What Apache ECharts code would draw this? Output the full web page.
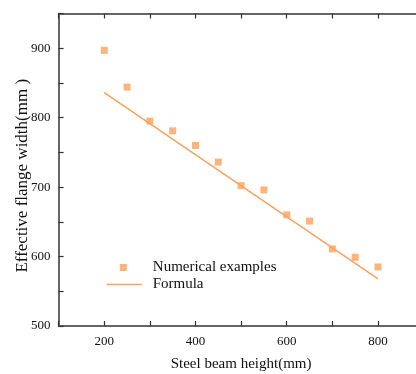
<!DOCTYPE html>
<html>
<head>
<meta charset="utf-8">
<script src="https://cdn.jsdelivr.net/npm/echarts@6/dist/echarts.min.js"></script>
<style>
  html, body { margin: 0; padding: 0; background: #fff; }
  #chart { width: 416px; height: 374px; }
</style>
</head>
<body>
<div id="chart"></div>
<script>
// Steel beam heights (mm)
const heights = [200, 250, 300, 350, 400, 450, 500, 550, 600, 650, 700, 750, 800];
// Effective flange width from numerical examples (mm)
const numerical = [897, 844, 795, 781, 760, 736, 702, 696, 660, 651, 611, 599, 585];
// Formula line end points
const formulaX = [200, 800];
const formulaY = [836, 568];

const xTicks = [200, 400, 600, 800];
const yTicks = [500, 600, 700, 800, 900];

const serif = 'Liberation Serif, Times New Roman, serif';
const axisColor = '#333';
const orange = '#FFA05A';
const textColor = '#111';

const chart = echarts.init(document.getElementById('chart'));

const tickStyle = { show: true, inside: true, length: 5, lineStyle: { color: axisColor, width: 1.2 } };
const lineStyle = { show: true, onZero: false, lineStyle: { color: axisColor, width: 1.5 } };

chart.setOption({
  animation: false,
  backgroundColor: '#fff',
  grid: {
    left: 58.6, top: 13.5, right: -7.6, bottom: 48,
    containLabel: false, outerBoundsMode: 'none'
  },
  legend: [
    {
      left: 119.8, top: 260, padding: 0, itemWidth: 7, itemHeight: 7,
      textStyle: { fontFamily: serif, fontSize: 15, color: textColor, padding: [0, 0, 0, 21] },
      data: [{ name: 'Numerical examples', icon: 'rect' }]
    },
    {
      left: 106.7, top: 277, padding: 0, itemWidth: 35, itemHeight: 1.5,
      textStyle: { fontFamily: serif, fontSize: 15, color: textColor, padding: [0, 0, 0, 6] },
      data: [{ name: 'Formula', icon: 'rect' }]
    }
  ],
  xAxis: [
    {
      type: 'value', min: 100, max: 900, interval: 100, position: 'bottom',
      axisLine: lineStyle, axisTick: tickStyle, splitLine: { show: false },
      name: 'Steel beam height(mm)', nameLocation: 'middle', nameGap: 31,
      nameMoveOverlap: false,
      nameTextStyle: { fontFamily: serif, fontSize: 15, color: textColor },
      axisLabel: {
        fontFamily: serif, fontSize: 13, color: textColor, margin: 9,
        formatter: v => xTicks.includes(v) ? String(v) : ''
      }
    },
    {
      type: 'value', min: 100, max: 900, interval: 100, position: 'top',
      axisLine: lineStyle, axisTick: tickStyle, splitLine: { show: false },
      axisLabel: { show: false }
    }
  ],
  yAxis: [
    {
      type: 'value', min: 500, max: 950, interval: 50, position: 'left',
      axisLine: lineStyle, axisTick: tickStyle, splitLine: { show: false },
      name: 'Effective flange width(mm )', nameLocation: 'middle', nameGap: 28,
      nameMoveOverlap: false,
      nameTextStyle: { fontFamily: serif, fontSize: 17, color: textColor, padding: [0, 12, 0, 0] },
      axisLabel: {
        fontFamily: serif, fontSize: 13, color: textColor, margin: 8,
        formatter: v => yTicks.includes(v) ? String(v) : ''
      }
    }
  ],
  series: [
    {
      name: 'Numerical examples', type: 'scatter',
      symbol: 'rect', symbolSize: 7,
      itemStyle: { color: orange },
      data: heights.map((h, i) => [h, numerical[i]])
    },
    {
      name: 'Formula', type: 'line',
      showSymbol: false, symbol: 'none',
      lineStyle: { color: orange, width: 1.5 },
      itemStyle: { color: orange },
      data: formulaX.map((x, i) => [x, formulaY[i]])
    }
  ]
});
</script>
</body>
</html>
